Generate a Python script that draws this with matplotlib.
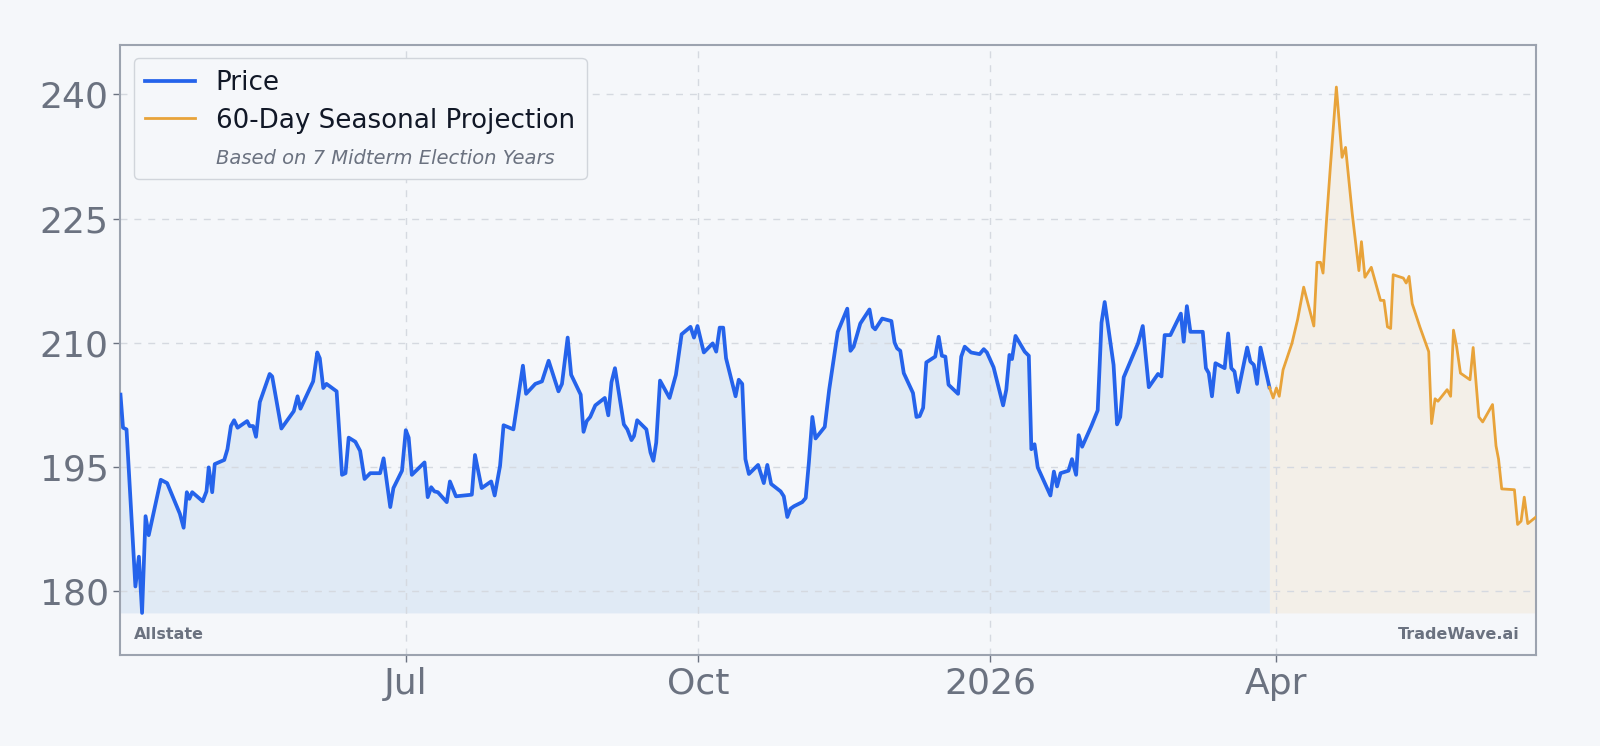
import numpy as np
import pandas as pd
import matplotlib
matplotlib.use("Agg")
import matplotlib.pyplot as plt
import matplotlib.dates as mdates
from matplotlib.lines import Line2D

# Allstate closing price (calendar days since 2025-04-02)
start = pd.Timestamp("2025-04-02")
price_day = [0.0, 0.8, 1.9, 4.7, 5.8, 6.8, 7.9, 8.9, 12.7, 14.7, 18.7, 19.9, 20.9, 21.7, 22.6,
             25.9, 27.1, 27.8, 28.9, 29.7, 32.7, 33.7, 34.8, 35.8, 36.9, 39.9, 40.7, 41.8, 42.7,
             43.9, 47.0, 47.8, 50.7, 54.6, 55.8, 56.7, 60.7, 62.0, 62.8, 63.9, 64.9, 68.1, 69.8,
             70.9, 71.9, 74.0, 75.5, 76.9, 78.7, 81.8, 82.9, 85.0, 86.0, 88.7, 89.9, 90.8, 91.8,
             95.8, 96.8, 97.9, 98.9, 100.0, 102.8, 103.8, 105.7, 110.7, 111.7, 113.8, 116.8,
             117.9, 119.6, 120.7, 123.8, 126.8, 127.8, 130.7, 132.8, 134.9, 138.0, 139.1, 140.9,
             142.0, 145.0, 145.9, 146.9, 148.0, 149.6, 152.6, 153.7, 154.7, 155.8, 158.6, 159.7,
             161.0, 161.8, 162.8, 165.7, 167.0, 167.9, 168.8, 170.0, 173.0, 175.0, 176.8, 179.6,
             180.7, 181.8, 183.8, 186.6, 187.7, 188.8, 189.9, 190.8, 193.8, 194.8, 195.9, 196.9,
             198.0, 200.9, 202.7, 203.8, 205.0, 208.0, 209.0, 210.1, 211.1, 212.2, 214.8, 215.9,
             216.9, 218.0, 219.0, 221.9, 223.3, 226.0, 229.0, 230.0, 231.0, 233.1, 236.0, 237.0,
             237.8, 240.0, 242.9, 243.9, 244.7, 245.7, 246.8, 249.7, 250.8, 251.8, 252.9, 253.9,
             256.7, 257.8, 258.8, 259.9, 260.9, 263.9, 264.9, 266.0, 268.0, 270.7, 272.0, 273.0,
             275.1, 278.1, 279.1, 280.1, 280.9, 282.0, 284.9, 286.2, 287.0, 288.0, 289.0, 293.0,
             294.1, 295.1, 296.2, 298.7, 299.8, 301.1, 301.9, 303.0, 305.9, 307.9, 309.1, 310.1,
             312.9, 314.0, 315.0, 316.1, 320.6, 322.1, 324.0, 326.9, 328.0, 329.0, 330.8, 334.1,
             335.0, 336.0, 337.1, 341.0, 342.0, 342.9, 343.9, 345.0, 347.9, 349.0, 350.0, 351.0,
             352.1, 355.0, 356.0, 357.1, 358.1, 359.2, 362.0]
price = [203.7, 199.7, 199.5, 180.5, 184.1, 177.3, 189.0, 186.7, 193.4, 193.0, 189.3, 187.6, 191.9,
         191.1, 191.9, 190.8, 192.0, 194.9, 191.9, 195.3, 195.8, 197.1, 199.9, 200.6, 199.7, 200.5,
         199.9, 199.9, 198.6, 202.8, 206.2, 205.9, 199.6, 201.7, 203.5, 202.0, 205.3, 208.8, 208.1,
         204.5, 205.0, 204.1, 194.0, 194.2, 198.5, 198.0, 196.9, 193.5, 194.2, 194.2, 196.0, 190.1,
         192.4, 194.5, 199.4, 198.5, 194.0, 195.5, 191.3, 192.5, 192.0, 191.9, 190.7, 193.2, 191.4,
         191.6, 196.4, 192.4, 193.2, 191.5, 195.1, 200.0, 199.5, 207.2, 203.8, 205.0, 205.3, 207.8,
         204.1, 205.0, 210.6, 206.1, 203.7, 199.2, 200.5, 201.0, 202.4, 203.3, 201.2, 205.2, 206.9,
         200.1, 199.5, 198.2, 198.7, 200.6, 199.5, 196.7, 195.7, 197.9, 205.4, 203.3, 206.1, 211.0,
         211.9, 210.6, 212.0, 208.8, 209.9, 208.9, 211.8, 211.8, 208.1, 203.5, 205.5, 205.0, 195.9,
         194.1, 195.2, 193.0, 195.2, 192.9, 192.0, 191.4, 188.9, 189.9, 190.2, 190.7, 191.2, 195.5,
         201.0, 198.4, 199.8, 204.3, 211.3, 214.1, 209.0, 209.5, 212.3, 214.0, 211.9, 211.6, 212.9,
         212.6, 210.0, 209.3, 209.0, 206.3, 203.9, 201.0, 201.1, 202.1, 207.6, 208.3, 210.7, 208.4,
         208.3, 204.9, 203.8, 208.3, 209.5, 208.8, 208.6, 209.2, 208.8, 207.0, 202.4, 204.3, 208.5,
         208.0, 210.8, 208.9, 208.4, 197.1, 197.7, 194.9, 191.5, 194.4, 192.6, 194.2, 194.5, 195.9,
         194.0, 198.8, 197.4, 199.9, 201.8, 212.4, 214.9, 207.3, 200.1, 201.0, 205.8, 209.9, 212.0,
         204.6, 206.2, 205.9, 210.9, 210.9, 213.5, 210.1, 214.4, 211.3, 211.3, 206.9, 206.3, 203.5,
         207.5, 206.9, 211.1, 206.9, 206.5, 204.0, 209.4, 207.7, 207.3, 205.0, 209.4, 204.6]

# 60-day seasonal projection (midterm election years)
proj_day = [362.0, 363.2, 364.2, 365.1, 366.3, 369.1, 370.9, 372.8, 376.0, 377.0, 378.1, 378.9,
            380.0, 381.2, 383.1, 384.9, 386.0, 388.1, 390.2, 391.0, 392.1, 394.1, 397.0, 398.1,
            399.2, 400.2, 401.0, 404.2, 405.1, 406.0, 407.0, 409.4, 412.2, 413.1, 414.2, 415.1,
            418.0, 419.1, 420.0, 421.0, 422.2, 425.2, 426.2, 428.0, 429.2, 432.3, 433.4, 434.2,
            435.2, 439.2, 440.2, 441.3, 442.3, 443.4, 446.0]
proj = [204.6, 203.3, 204.5, 203.5, 206.7, 209.9, 212.8, 216.7, 212.0, 219.7, 219.7, 218.4, 224.8,
        231.2, 240.9, 232.4, 233.6, 225.6, 218.7, 222.2, 217.9, 219.1, 215.1, 215.1, 211.9, 211.7,
        218.2, 217.8, 217.2, 218.0, 214.7, 211.9, 208.9, 200.2, 203.2, 202.9, 204.3, 203.5, 211.5,
        209.5, 206.3, 205.5, 209.4, 201.0, 200.4, 202.5, 197.5, 195.9, 192.3, 192.2, 188.0, 188.4,
        191.3, 188.1, 188.9]

BLUE = "#2563eb"
ORANGE = "#e8a33a"
GRAY = "#6b7280"
BG = "#f5f7fa"

px = start + pd.to_timedelta(price_day, unit="D")
pj = start + pd.to_timedelta(proj_day, unit="D")

fig = plt.figure(figsize=(16, 7.46), dpi=100, facecolor=BG)
ax = fig.add_axes([0.0753, 0.122, 0.8847, 0.8177])
ax.set_facecolor(BG)

lo = min(min(price), min(proj))
hi = max(max(price), max(proj))
rng = hi - lo

ax.fill_between(px, price, lo, color="#3080d0", alpha=0.1, linewidth=0)
ax.fill_between(pj, proj, lo, color=ORANGE, alpha=0.09, linewidth=0)
ax.plot(px, price, color=BLUE, lw=2.7, label="Price", zorder=3)
ax.plot(pj, proj, color=ORANGE, lw=2.0, label="60-Day Seasonal Projection", zorder=3)

ax.set_xlim(px[0], pj[-1])
ax.set_ylim(lo - 0.08 * rng, hi + 0.08 * rng)
ax.set_yticks([180, 195, 210, 225, 240])

ax.xaxis.set_major_locator(mdates.MonthLocator(bymonth=[1, 4, 7, 10]))
ax.xaxis.set_major_formatter(plt.FuncFormatter(
    lambda v, pos: mdates.num2date(v).strftime("%Y" if mdates.num2date(v).month == 1 else "%b")))

ax.grid(True, linestyle=(0, (5, 5)), color="#d5d9e0", linewidth=1.0)
ax.tick_params(axis="both", labelsize=26, colors=GRAY, length=5, width=1)
for s in ax.spines.values():
    s.set_color("#9ca3af")
    s.set_linewidth(1.5)

handles, labels = ax.get_legend_handles_labels()
handles.append(Line2D([], [], color="none"))
labels.append("Based on 7 Midterm Election Years")
leg = ax.legend(handles, labels, loc="upper left", fontsize=18.8, handlelength=1.9,
                frameon=True, facecolor=BG, edgecolor="#d1d5db", framealpha=1.0,
                labelspacing=0.45, borderpad=0.45)
note = leg.get_texts()[2]
note.set_fontstyle("italic")
note.set_fontsize(14)
note.set_color(GRAY)
for t in leg.get_texts()[:2]:
    t.set_color("#111827")

ax.text(0.0096, 0.034, "Allstate", transform=ax.transAxes, fontsize=11.5,
        fontweight="bold", color=GRAY, ha="left", va="center")
ax.text(0.9887, 0.034, "TradeWave.ai", transform=ax.transAxes, fontsize=11.5,
        fontweight="bold", color=GRAY, ha="right", va="center")

fig.savefig("out.png", dpi=100, facecolor=BG)
